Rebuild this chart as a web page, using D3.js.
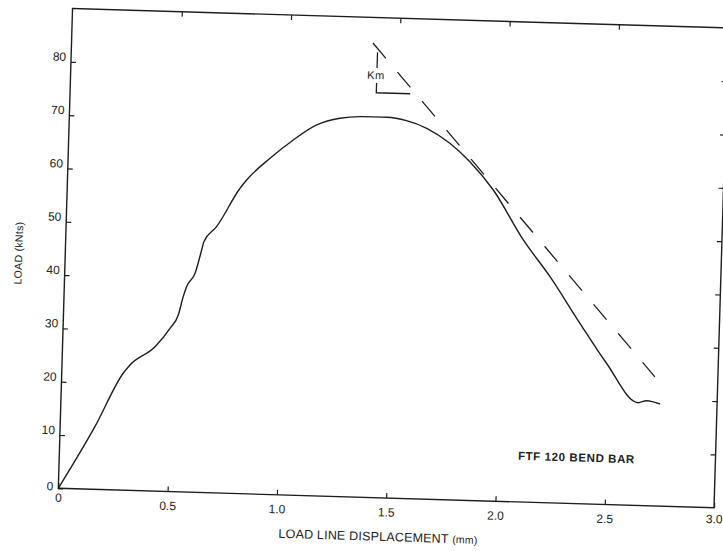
<!DOCTYPE html>
<html>
<head>
<meta charset="utf-8">
<script src="https://cdn.jsdelivr.net/npm/d3@7"></script>
<style>
  body { margin: 0; background: #fff; }
  text { font-family: Arial, "Liberation Sans", Helvetica, sans-serif; fill: #222; }
</style>
</head>
<body>
<script>
// load / displacement curve
var dispMm = [0, 0.159, 0.281, 0.311, 0.423, 0.489, 0.525, 0.545, 0.559, 0.596, 0.623, 0.632, 0.688, 0.79, 0.819,
  0.923, 1.027, 1.132, 1.237, 1.344, 1.451, 1.542, 1.635, 1.743, 1.837, 1.948, 2.092, 2.219, 2.362, 2.489,
  2.639, 2.677, 2.739];
var loadKN = [0, 11.75, 21.92, 23.51, 27.08, 30.61, 33.15, 36.61, 38.5, 41.06, 45.46, 47.03, 49.91, 57.24, 58.83,
  63.03, 66.59, 69.53, 70.92, 71.35, 71.36, 70.84, 69.52, 66.84, 63.51, 58.33, 49.13, 42.4, 33.83, 26.48,
  19.27, 19.69, 19.15];

// dashed tangent (stiffness Km)
var tangentDisp = [1.378, 2.712];
var tangentLoad = [85.2, 24.2];

// little Km slope bracket
var kmDisp = [1.40, 1.40, 1.555];
var kmLoad = [83.5, 75.9, 75.9];

var xTicks = [0, 0.5, 1.0, 1.5, 2.0, 2.5, 3.0];
var xTickLabels = ['0', '0.5', '1.0', '1.5', '2.0', '2.5', '3.0'];
var yTicks = [0, 10, 20, 30, 40, 50, 60, 70, 80];
var yTickLabels = ['0', '10', '20', '30', '40', '50', '60', '70', '80'];

var svgWidth = 723;
var svgHeight = 551;
var chartWidth = 656;
var chartHeight = 480;
var origin = { x: 58.3, y: 488.3 };
var tilt = 1.7; // the scanned page sits a little crooked

var svg = d3.select('body')
  .append('svg')
  .attr('width', svgWidth)
  .attr('height', svgHeight);

svg.append('rect')
  .attr('width', svgWidth)
  .attr('height', svgHeight)
  .attr('fill', '#fff');

var chartGroup = svg.append('g')
  .attr('transform', `translate(${origin.x},${origin.y}) rotate(${tilt}) translate(0,${-chartHeight})`);

// Scales
var xScale = d3.scaleLinear().domain([0, 3]).range([0, chartWidth]);
var yScale = d3.scaleLinear().domain([0, 90]).range([chartHeight, 0]);

var ink = '#1e1e1e';

// frame
chartGroup.append('rect')
  .attr('width', chartWidth)
  .attr('height', chartHeight)
  .attr('fill', 'none')
  .attr('stroke', ink)
  .attr('stroke-width', 1.4);

// bottom axis, ticks point inward
var xAxis = d3.axisBottom(xScale)
  .tickValues(xTicks)
  .tickFormat((d, i) => xTickLabels[i])
  .tickSizeInner(-5)
  .tickSizeOuter(0)
  .tickPadding(10);

var xAxisG = chartGroup.append('g')
  .attr('transform', `translate(0,${chartHeight})`)
  .call(xAxis);
xAxisG.select('.domain').remove();
xAxisG.selectAll('.tick line').attr('stroke', ink).attr('stroke-width', 1.2);
xAxisG.selectAll('.tick text')
  .attr('font-size', '12px')
  .attr('fill', '#222')
  .style('font-family', 'Arial, "Liberation Sans", sans-serif');
xAxisG.selectAll('.tick text').filter(d => d === 0).attr('y', 5);
xAxisG.selectAll('.tick text').filter(d => d === 3).attr('y', 7);

// left axis
var yAxis = d3.axisLeft(yScale)
  .tickValues(yTicks)
  .tickFormat((d, i) => yTickLabels[i])
  .tickSizeInner(-5)
  .tickSizeOuter(0)
  .tickPadding(5);

var yAxisG = chartGroup.append('g').call(yAxis);
yAxisG.select('.domain').remove();
yAxisG.selectAll('.tick line').attr('stroke', ink).attr('stroke-width', 1.2);
yAxisG.selectAll('.tick text')
  .attr('font-size', '12px')
  .attr('fill', '#222')
  .attr('dy', '-0.1em')
  .style('font-family', 'Arial, "Liberation Sans", sans-serif');
yAxisG.selectAll('.tick text').filter(d => d === 0).attr('dy', '0.15em');

// mirrored ticks on top and right border
var topAxisG = chartGroup.append('g')
  .call(d3.axisTop(xScale).tickValues(xTicks.slice(1, -1)).tickSizeInner(-5).tickSizeOuter(0).tickFormat(''));
topAxisG.select('.domain').remove();
topAxisG.selectAll('.tick line').attr('stroke', ink).attr('stroke-width', 1.2);

var rightAxisG = chartGroup.append('g')
  .attr('transform', `translate(${chartWidth},0)`)
  .call(d3.axisRight(yScale).tickValues(yTicks.slice(1)).tickSizeInner(-5).tickSizeOuter(0).tickFormat(''));
rightAxisG.select('.domain').remove();
rightAxisG.selectAll('.tick line').attr('stroke', ink).attr('stroke-width', 1.2);

// curve
var curve = dispMm.map((d, i) => ({ x: d, y: loadKN[i] }));
var line = d3.line()
  .x(d => xScale(d.x))
  .y(d => yScale(d.y))
  .curve(d3.curveMonotoneX);

chartGroup.append('path')
  .datum(curve)
  .attr('d', line)
  .attr('fill', 'none')
  .attr('stroke', ink)
  .attr('stroke-width', 1.4);

// tangent
var tangent = tangentDisp.map((d, i) => ({ x: d, y: tangentLoad[i] }));
chartGroup.append('path')
  .datum(tangent)
  .attr('d', d3.line().x(d => xScale(d.x)).y(d => yScale(d.y)))
  .attr('fill', 'none')
  .attr('stroke', ink)
  .attr('stroke-width', 1.3)
  .attr('stroke-dasharray', '20,18');

// Km bracket
var km = kmDisp.map((d, i) => ({ x: d, y: kmLoad[i] }));
chartGroup.append('path')
  .datum(km)
  .attr('d', d3.line().x(d => xScale(d.x)).y(d => yScale(d.y)))
  .attr('fill', 'none')
  .attr('stroke', ink)
  .attr('stroke-width', 1.3);

chartGroup.append('text')
  .attr('x', xScale(1.396))
  .attr('y', yScale(79.2))
  .attr('dy', '0.35em')
  .attr('text-anchor', 'middle')
  .attr('font-size', '11px')
  .attr('letter-spacing', '0.6px')
  .attr('stroke', '#fff')
  .attr('stroke-width', 7)
  .attr('paint-order', 'stroke')
  .text('Km');

// caption
chartGroup.append('text')
  .attr('x', xScale(2.097))
  .attr('y', yScale(7.9))
  .attr('font-size', '11.5px')
  .attr('font-weight', 'bold')
  .attr('letter-spacing', '0.6px')
  .text('FTF 120 BEND BAR');

// x axis label
var xTitle = chartGroup.append('text')
  .attr('x', 321)
  .attr('y', chartHeight + 43)
  .attr('text-anchor', 'middle')
  .attr('font-size', '12.5px')
  .attr('letter-spacing', '0.2px');
xTitle.append('tspan').text('LOAD LINE DISPLACEMENT ');
xTitle.append('tspan').attr('font-size', '10.5px').text('(mm)');

// y axis label
chartGroup.append('text')
  .attr('transform', 'rotate(-90)')
  .attr('x', -246)
  .attr('y', -43)
  .attr('text-anchor', 'middle')
  .attr('font-size', '10.5px')
  .attr('letter-spacing', '0.3px')
  .text('LOAD  (kNts)');
</script>
</body>
</html>
